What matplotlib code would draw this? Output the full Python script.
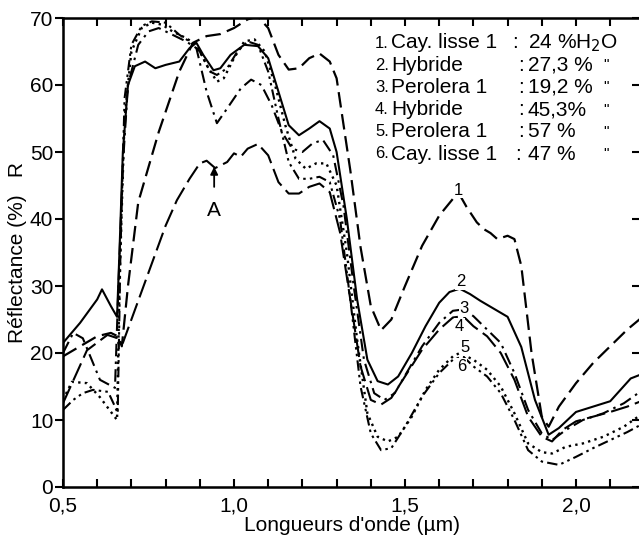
import matplotlib
matplotlib.use('Agg')
import matplotlib.pyplot as plt

plt.rcParams['font.family'] = ['Liberation Sans', 'DejaVu Sans']

# courbes de réflectance (longueur d'onde en µm, réflectance en %)
wl_1 = [0.50, 0.55, 0.60, 0.64, 0.66, 0.672, 0.69, 0.72, 0.78, 0.84, 0.88, 0.92, 0.96, 1.00, 1.04, 1.07,
        1.10, 1.13, 1.16, 1.19, 1.22, 1.25, 1.28, 1.30, 1.34, 1.37, 1.40, 1.43, 1.46, 1.50, 1.55, 1.60,
        1.64, 1.66, 1.68, 1.71, 1.73, 1.75, 1.77, 1.80, 1.82, 1.84, 1.87, 1.90, 1.92, 1.95, 2.00, 2.05,
        2.10, 2.15, 2.19]
r_1 = [19.5, 21.0, 22.5, 23.0, 22.5, 21.0, 30.0, 42.5, 53.0, 62.0, 66.3, 67.3, 67.6, 68.5, 69.8, 70.2,
       68.5, 64.5, 62.3, 62.5, 64.0, 64.7, 63.5, 61.0, 47.3, 35.8, 27.0, 23.4, 25.0, 30.0, 36.0, 40.5,
       43.0, 43.6, 41.8, 39.5, 38.5, 37.9, 37.0, 37.5, 37.0, 33.0, 20.0, 10.5, 9.0, 12.0, 15.5, 18.5,
       21.0, 23.5, 25.2]

wl_2 = [0.50, 0.55, 0.60, 0.614, 0.64, 0.658, 0.665, 0.675, 0.69, 0.71, 0.74, 0.77, 0.80, 0.84, 0.87, 0.89,
        0.91, 0.94, 0.96, 0.99, 1.03, 1.07, 1.10, 1.13, 1.16, 1.19, 1.22, 1.25, 1.28, 1.30, 1.33, 1.36,
        1.39, 1.42, 1.45, 1.48, 1.52, 1.56, 1.60, 1.63, 1.66, 1.69, 1.72, 1.75, 1.78, 1.80, 1.84, 1.88,
        1.92, 1.95, 2.00, 2.05, 2.10, 2.13, 2.16, 2.19]
r_2 = [21.5, 24.5, 28.0, 29.5, 27.0, 25.4, 35.0, 50.0, 60.0, 62.8, 63.5, 62.5, 63.0, 63.5, 65.5, 66.3,
       64.5, 62.2, 62.5, 64.5, 66.0, 65.8, 64.0, 59.0, 54.0, 52.5, 53.5, 54.6, 53.5, 50.0, 40.0, 28.0,
       19.0, 15.8, 15.3, 16.5, 20.0, 24.0, 27.5, 29.1, 29.6, 28.8, 27.8, 26.9, 26.0, 25.4, 20.9, 13.0,
       7.8, 8.8, 11.2, 12.0, 12.8, 14.5, 16.2, 16.8]

wl_3 = [0.50, 0.53, 0.558, 0.608, 0.652, 0.662, 0.675, 0.69, 0.72, 0.75, 0.78, 0.82, 0.86, 0.89, 0.92, 0.95,
        0.98, 1.02, 1.05, 1.08, 1.11, 1.14, 1.17, 1.20, 1.23, 1.26, 1.29, 1.32, 1.35, 1.38, 1.41, 1.44,
        1.47, 1.51, 1.55, 1.60, 1.64, 1.67, 1.70, 1.74, 1.78, 1.82, 1.86, 1.90, 1.93, 1.97, 2.02, 2.08,
        2.14, 2.19]
r_3 = [20.0, 23.0, 22.2, 16.0, 14.8, 30.0, 48.0, 60.0, 66.0, 68.0, 68.5, 67.5, 66.5, 65.5, 59.0, 54.3,
       56.5, 59.5, 60.8, 60.0, 57.0, 53.0, 50.5, 50.0, 51.3, 51.8, 49.5, 42.0, 30.0, 19.0, 14.0, 13.0,
       14.0, 17.5, 21.0, 24.5, 26.3, 26.5, 25.5, 23.5, 21.5, 17.0, 11.5, 8.0, 7.0, 8.5, 10.0, 11.0,
       12.5, 14.3]

wl_4 = [0.50, 0.57, 0.63, 0.66, 0.675, 0.70, 0.75, 0.80, 0.833, 0.87, 0.90, 0.92, 0.945, 0.98, 1.00, 1.02,
        1.04, 1.07, 1.10, 1.13, 1.16, 1.19, 1.22, 1.25, 1.28, 1.31, 1.34, 1.37, 1.40, 1.43, 1.46, 1.50,
        1.55, 1.60, 1.64, 1.67, 1.70, 1.74, 1.78, 1.82, 1.86, 1.90, 1.93, 1.96, 2.00, 2.05, 2.10, 2.15,
        2.19]
r_4 = [12.5, 20.4, 22.7, 22.2, 21.5, 25.0, 32.0, 39.0, 42.8, 46.0, 48.3, 48.7, 47.6, 48.5, 49.8, 49.3,
       50.5, 51.2, 49.5, 45.5, 43.8, 43.8, 44.8, 45.3, 44.0, 38.0, 28.0, 18.0, 13.0, 12.3, 13.3, 16.5,
       20.5, 23.5, 25.3, 25.5, 24.0, 22.5, 20.0, 16.0, 10.5, 7.5, 6.8, 8.5, 9.8, 10.5, 11.2, 12.0,
       12.8]

wl_5 = [0.50, 0.526, 0.57, 0.608, 0.658, 0.665, 0.68, 0.70, 0.73, 0.76, 0.79, 0.82, 0.86, 0.89, 0.92, 0.95,
        0.97, 1.00, 1.03, 1.06, 1.09, 1.12, 1.15, 1.18, 1.21, 1.24, 1.27, 1.30, 1.33, 1.36, 1.39, 1.42,
        1.45, 1.48, 1.52, 1.56, 1.60, 1.64, 1.66, 1.70, 1.74, 1.78, 1.82, 1.86, 1.90, 1.93, 1.97, 2.02,
        2.08, 2.14, 2.19]
r_5 = [13.0, 15.7, 15.5, 13.4, 10.0, 30.0, 55.0, 65.0, 68.5, 69.3, 69.0, 68.0, 67.0, 66.0, 63.0, 60.5,
       61.0, 64.0, 66.5, 66.8, 65.0, 60.0, 54.0, 49.0, 47.5, 48.3, 48.3, 45.0, 35.0, 22.0, 11.0, 7.5,
       6.8, 7.5, 10.5, 14.5, 17.5, 19.5, 20.0, 19.0, 17.5, 15.0, 11.0, 6.5, 5.2, 5.0, 6.0, 6.5,
       7.5, 9.0, 10.8]

wl_6 = [0.50, 0.53, 0.558, 0.588, 0.632, 0.652, 0.66, 0.668, 0.68, 0.70, 0.73, 0.76, 0.80, 0.84, 0.87, 0.90,
        0.93, 0.95, 0.98, 1.01, 1.04, 1.07, 1.10, 1.13, 1.16, 1.19, 1.22, 1.25, 1.28, 1.31, 1.34, 1.37,
        1.40, 1.43, 1.46, 1.50, 1.55, 1.60, 1.64, 1.67, 1.70, 1.74, 1.78, 1.82, 1.86, 1.90, 1.95, 2.00,
        2.05, 2.10, 2.15, 2.19]
r_6 = [11.5, 13.0, 14.0, 14.5, 14.2, 12.0, 11.0, 35.0, 58.0, 66.0, 68.8, 69.5, 69.3, 67.5, 66.5, 65.0,
       62.0, 61.5, 62.5, 65.0, 66.5, 66.0, 62.0, 55.0, 48.5, 46.0, 46.0, 46.3, 45.5, 40.0, 28.0, 15.0,
       8.0, 5.5, 5.8, 9.0, 13.5, 17.0, 19.0, 19.5, 18.0, 16.5, 14.0, 10.0, 5.5, 3.8, 3.3, 4.5,
       5.8, 7.0, 8.2, 9.3]

# numéros des courbes et leur position
curve_ids = ['1', '2', '3', '4', '5', '6']
id_wl = [1.657, 1.663, 1.672, 1.660, 1.675, 1.665]
id_r = [44.3, 30.6, 26.6, 24.0, 20.8, 18.0]

# légende
legend_nums = ['1.', '2.', '3.', '4.', '5.', '6.']
legend_names = ['Cay. lisse 1', 'Hybride', 'Perolera 1', 'Hybride', 'Perolera 1', 'Cay. lisse 1']
legend_values = ['24 %H$_2$O', '27,3 %', '19,2 %', '45,3%', '57 %', '47 %']
legend_ditto = ['', '"', '"', '"', '"', '"']
colon_px = [512, 518, 518, 518, 518, 515]

x_ticks = [0.5, 1.0, 1.5, 2.0]
x_ticklabels = ['0,5', '1,0', '1,5', '2,0']
y_ticks = [0, 10, 20, 30, 40, 50, 60, 70]

fig = plt.figure(figsize=(6.39, 5.39), dpi=100)
ax = fig.add_axes([63 / 639, 52 / 539, 579 / 639, 469 / 539])

k = 'black'
ax.plot(wl_1, r_1, color=k, lw=1.6, dashes=(7, 3))
ax.plot(wl_2, r_2, color=k, lw=1.5)
ax.plot(wl_3, r_3, color=k, lw=1.5, dashes=(6, 2.5, 1.2, 2.5))
ax.plot(wl_4, r_4, color=k, lw=1.5, dashes=(9, 3))
ax.plot(wl_5, r_5, color=k, lw=1.7, dashes=(1, 1.8))
ax.plot(wl_6, r_6, color=k, lw=1.5, dashes=(5, 2, 1.2, 2, 1.2, 2))

for lab, xx, yy in zip(curve_ids, id_wl, id_r):
    ax.text(xx, yy, lab, fontsize=12, ha='center', va='center',
            bbox=dict(facecolor='white', edgecolor='none', pad=0.5))

ax.annotate('A', xy=(0.942, 47.8), xytext=(0.942, 41.3), fontsize=15, ha='center', va='center',
            arrowprops=dict(arrowstyle='-|>', color=k, lw=1.3, shrinkA=8, shrinkB=0, mutation_scale=11))

ax.set_xlim(0.5, 0.5 + 579 / 342)
ax.set_ylim(0, 70)
ax.set_xticks(x_ticks)
ax.set_xticklabels(x_ticklabels, fontsize=15)
ax.set_xticks([0.6, 0.7, 0.8, 0.9, 1.1, 1.2, 1.3, 1.4, 1.6, 1.7, 1.8, 1.9, 2.1], minor=True)
ax.set_yticks(y_ticks)
ax.set_yticklabels([str(v) for v in y_ticks], fontsize=15)

ax.tick_params(axis='x', which='both', direction='in', top=True, length=6, width=1.5, pad=7)
ax.tick_params(axis='y', which='both', direction='out', length=6, width=1.5, pad=1)
for s in ax.spines.values():
    s.set_linewidth(1.8)

# graduations internes à droite
ax2 = ax.twinx()
ax2.set_ylim(0, 70)
ax2.set_yticks(y_ticks)
ax2.set_yticklabels([])
ax2.tick_params(axis='y', direction='in', length=7, width=1.5)

ax.set_xlabel("Longueurs d'onde (µm)", fontsize=15, labelpad=0)
ax.set_ylabel('Réflectance (%)   R', fontsize=15, labelpad=2)

ytop = 539 - 43
for i in range(len(legend_names)):
    yy = (ytop - i * 22.2) / 539
    fig.text(375 / 639, yy, legend_nums[i], fontsize=12, va='center', ha='left')
    fig.text(391 / 639, yy, legend_names[i], fontsize=15, va='center', ha='left')
    fig.text(colon_px[i] / 639, yy, ':', fontsize=15, va='center', ha='left')
    fig.text(528 / 639, yy, legend_values[i], fontsize=15, va='center', ha='left')
    fig.text(603 / 639, yy, legend_ditto[i], fontsize=11, va='center', ha='left')

fig.savefig('out.png', dpi=100)
